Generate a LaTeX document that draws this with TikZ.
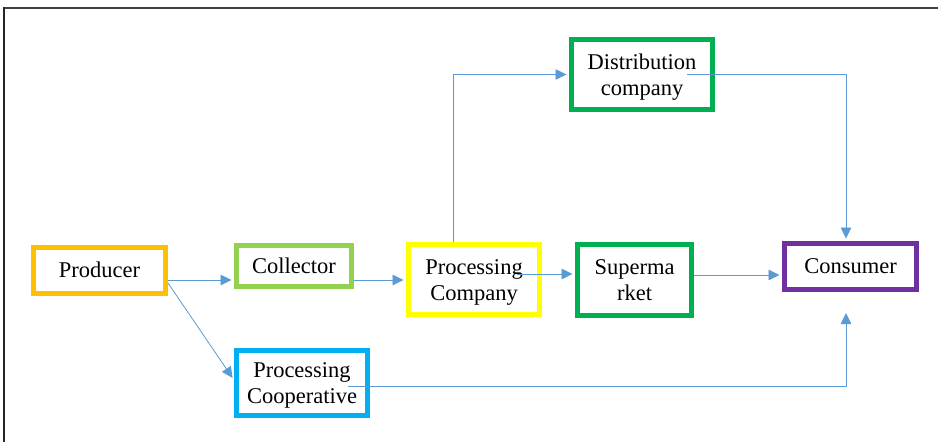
\documentclass[tikz,border=0pt]{standalone}
\usepackage{fontspec}
\setmainfont{Liberation Serif}
\usetikzlibrary{arrows.meta,calc}
\definecolor{cprod}{HTML}{FFC000}
\definecolor{ccoll}{HTML}{92D050}
\definecolor{ccoop}{HTML}{00B0F0}
\definecolor{cpcomp}{HTML}{FFFF00}
\definecolor{cgreen}{HTML}{00B050}
\definecolor{ccons}{HTML}{7030A0}
\definecolor{carrow}{HTML}{5B9BD5}
\newcommand{\twolines}[1]{\raisebox{-2.5pt}[\height][\depth]{\begin{tabular}{@{}c@{}}#1\end{tabular}}}
\tikzset{
  box/.style={draw, line width=5pt, fill=white, align=center, inner sep=0pt,
    font=\fontsize{22.5}{26}\selectfont},
  conn/.style={draw=carrow, line width=0.8pt, -{Triangle[length=11pt,width=10.5pt]}, shorten >=2.5pt},
}
\begin{document}
\begin{tikzpicture}[x=1pt,y=-1pt]
\useasboundingbox (0,0) rectangle (939,442);
\fill[white] (0,0) rectangle (939,442);
\draw[line width=2pt, color=black!75] (3,7.5) -- (938,7.5);
\draw[line width=1.3pt, color=black!85] (4,7) -- (4,442);

\node[box, draw=cprod, minimum width=132pt, minimum height=46pt] (prod) at (99.5,270) {Producer};
\node[box, draw=ccoll, minimum width=115pt, minimum height=41pt] (coll) at (294,266) {Collector};
\node[box, draw=ccoop, minimum width=131pt, minimum height=65pt] (coop) at (302,383) {\twolines{Processing\\Cooperative}};
\node[box, draw=cpcomp, minimum width=131pt, minimum height=70pt] (pcomp) at (474,279.5) {\twolines{Processing\\Company}};
\node[box, draw=cgreen, minimum width=114pt, minimum height=71pt] (super) at (634.5,280) {\twolines{Superma\\rket}};
\node[box, draw=cgreen, minimum width=141pt, minimum height=70pt] (dist) at (642,74.5) {\twolines{Distribution\\company}};
\node[box, draw=ccons, minimum width=132pt, minimum height=46pt] (cons) at (850.5,266.5) {Consumer};

\coordinate (a1) at ([yshift=-10pt]prod.east);
\coordinate (a2) at ([yshift=-13pt]prod.east);
\coordinate (a3) at ([yshift=-14pt]coll.east);
\coordinate (a4) at ([xshift=43pt,yshift=5.5pt]pcomp.center);
\coordinate (a5) at ([xshift=-21pt]pcomp.north);
\coordinate (a6) at ([xshift=45pt,yshift=0.5pt]dist.center);
\coordinate (a7) at ([yshift=5pt]super.east);
\coordinate (a8) at ([xshift=46pt,yshift=-3pt]coop.center);
\coordinate (constop) at ([xshift=-4.5pt]cons.north);
\coordinate (consin) at ([xshift=-4.5pt,yshift=-21pt]cons.south);

\draw[conn] (a1) -- (a1 -| coll.west);
\draw[conn] (a2) -- ([yshift=3pt]coop.west);
\draw[conn] (a3) -- (a3 -| pcomp.west);
\draw[conn] (a4) -- (a4 -| super.west);
\draw[conn] (a5) |- (dist.west);
\draw[conn] (a6) -| (constop);
\draw[conn] (a7) -- (a7 -| cons.west);
\draw[conn, shorten >=0pt] (a8) -| (consin);
\end{tikzpicture}
\end{document}
